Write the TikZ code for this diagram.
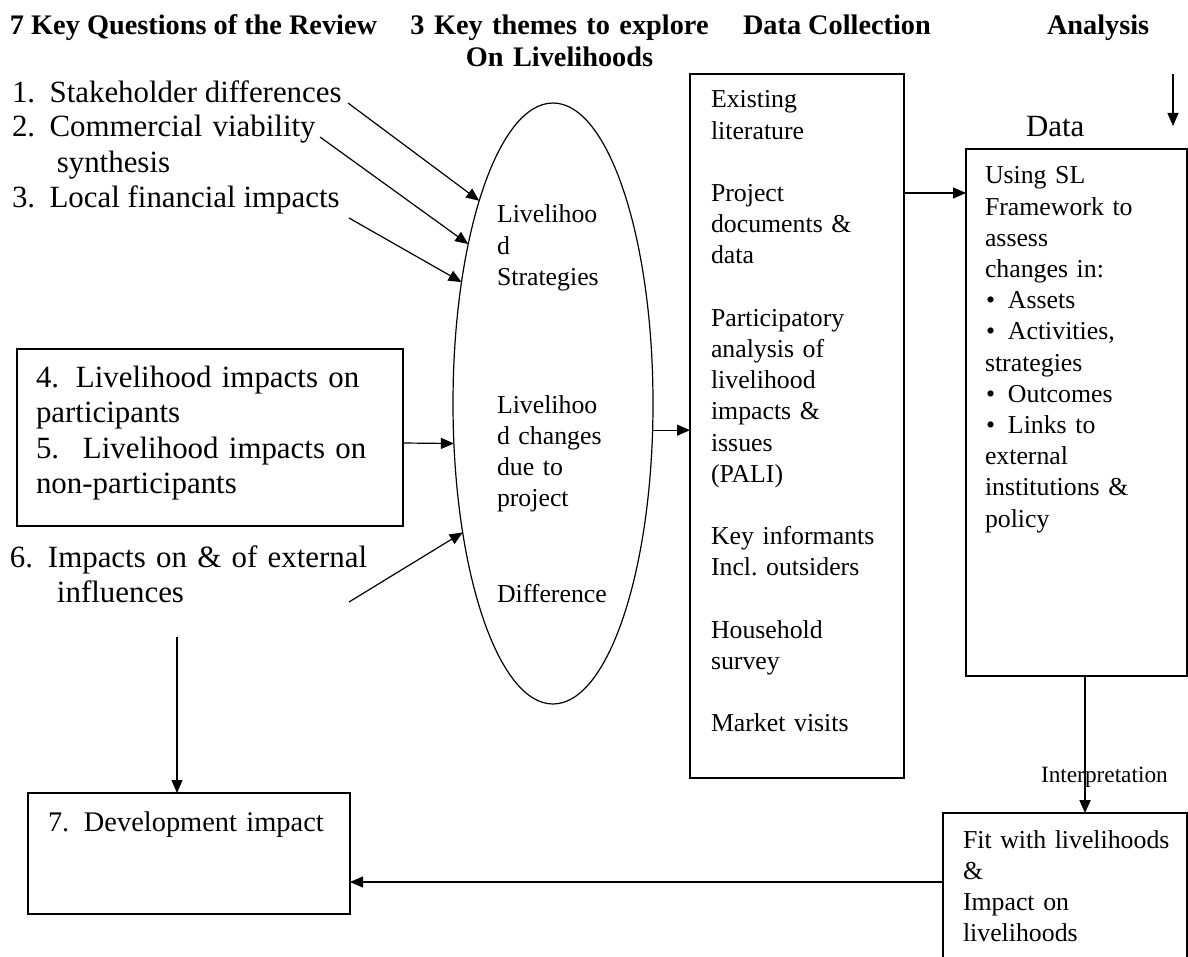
\documentclass[tikz,border=0pt]{standalone}
\usepackage{fontspec}
\setmainfont{Liberation Serif}
\usetikzlibrary{arrows.meta,shapes.geometric}
\newcommand\qfont{\fontsize{15.45pt}{17.75pt}\selectfont}
\newcommand\devfont{\fontsize{14.2pt}{17pt}\selectfont}
\newcommand\boxfont{\fontsize{12.9pt}{15.6pt}\selectfont}
\newcommand\headfont{\fontsize{14.15pt}{16pt}\selectfont\bfseries}
\newcommand\notefont{\fontsize{11.65pt}{14pt}\selectfont}
\newcommand\bul{\makebox[11.5pt][l]{\kern0.5pt•}}
\frenchspacing
\hyphenpenalty=10000

\begin{document}
\begin{tikzpicture}[x=0.5pt,y=-0.5pt,
  txt/.style={inner sep=0pt,outer sep=0pt,anchor=base west,align=left},
  box/.style={draw,line width=0.75pt,inner ysep=0pt,outer sep=0pt,anchor=north west,align=left},
  arr/.style={line width=0.6pt,-{Triangle[length=6.5pt,width=5.5pt]}}]
\useasboundingbox (0,0) rectangle (1188,957);
\clip (0,0) rectangle (1188,957);

% headings
\node[txt,font=\headfont] (h1) at (10,35) {7 Key Questions of the Review};
\node[inner sep=0pt,anchor=base,align=center,text width=160pt,font=\headfont] (h2) at (559.5,35) {3 Key themes to explore\\On Livelihoods};
\node[txt,font=\headfont] (h3) at (743,35) {Data Collection};
\node[txt,font=\headfont] (h4) at (1047,35) {Analysis};

% questions
\node[txt,font=\qfont] (q1) at (12,103) {\makebox[18.8pt][l]{1.}Stakeholder differences};
\node[txt,font=\qfont,text width=220pt] (q2) at (12,137) {\makebox[18.8pt][l]{2.}Commercial viability\\\hspace*{22.4pt}synthesis};
\node[txt,font=\qfont] (q3) at (12,208) {\makebox[18.8pt][l]{3.}Local financial impacts};
\node[box,font=\qfont,inner xsep=9.5pt,text width=174pt,text height=19pt,text depth=69.5pt] (imp) at (17,349) {\makebox[20pt][l]{4.}Livelihood impacts on\\participants\\\makebox[23.5pt][l]{5.}Livelihood impacts on\\non-participants};
\node[txt,font=\qfont,text width=220pt] (q6) at (10,567) {\makebox[19pt][l]{6.}Impacts on \& of external\\\hspace*{23.5pt}influences};
\node[box,font=\devfont,inner xsep=10pt,text width=141pt,text height=19pt,text depth=41.5pt] (dev) at (28,793) {\mbox{\makebox[18pt][l]{7.}Development impact}};

% themes
\node[draw,ellipse,line width=0.6pt,minimum width=100pt,minimum height=300.5pt,inner sep=0pt,outer sep=0pt] (themes) at (553,403.5) {};
\node[txt,font=\boxfont,text width=60pt] (t1) at (497,223) {Livelihoo\\d\\Strategies};
\node[txt,font=\boxfont,text width=60pt] (t2) at (497,413) {Livelihoo\\d changes\\due to\\project};
\node[txt,font=\boxfont] (t3) at (497,602) {Difference};

% data collection
\node[box,font=\boxfont,inner xsep=10.5pt,text width=86pt,text height=17pt,text depth=335pt] (dcol) at (690,74) {Existing\\literature\\[\baselineskip]Project\\documents \&\\data\\[\baselineskip]Participatory\\analysis of\\livelihood\\impacts \&\\issues\\(PALI)\\[\baselineskip]Key informants\\Incl. outsiders\\[\baselineskip]Household\\survey\\[\baselineskip]Market visits};

% analysis
\node[txt,font=\qfont] (datalbl) at (1026,137) {Data};
\node[box,font=\boxfont,inner xsep=9.5pt,text width=91.5pt,text height=17.5pt,text depth=246pt] (anl) at (966,149) {Using SL\\Framework to\\assess\\changes in:\\\bul Assets\\\bul Activities,\\strategies\\\bul Outcomes\\\bul Links to\\external\\institutions \&\\policy};
\node[txt,font=\notefont] (interp) at (1041,782) {Interpretation};
\node[box,font=\boxfont,inner xsep=10pt,text width=102pt,text height=17.5pt,text depth=58.5pt] (fit) at (943,813) {\mbox{Fit with livelihoods}\\\&\\Impact on\\livelihoods};

% connectors
\coordinate (s1) at (348,103);
\coordinate (s2) at (320,137);
\coordinate (s3) at (349,218);
\coordinate (s6) at (349,602);
\coordinate (feed) at (1173,74);
\coordinate (feedend) at (1173,126);
\coordinate (q6foot) at (177,637);
\draw[arr] (s1) -- (themes.110);
\draw[arr] (s2) -- (themes.118);
\draw[arr] (s3) -- (themes.127);
\draw[arr] (s6) -- (themes.235);
\draw[arr] ([yshift=-2.75pt]imp.east) -- (themes.202);
\draw[arr] (themes.345) -- (themes.345 -| dcol.west);
\draw[arr] ([yshift=-59.5pt]dcol.north east) -- ([yshift=-22pt]anl.north west);
\draw[arr] (feed) -- (feedend);
\draw[arr,line width=0.9pt] ([xshift=4.25pt]anl.south) -- ([xshift=10pt]fit.north);
\draw[arr] ([yshift=3.5pt]fit.west) -- ([yshift=-14.25pt]dev.east);
\draw[arr] (q6foot) -- ([xshift=-6pt]dev.north);
\end{tikzpicture}
\end{document}
